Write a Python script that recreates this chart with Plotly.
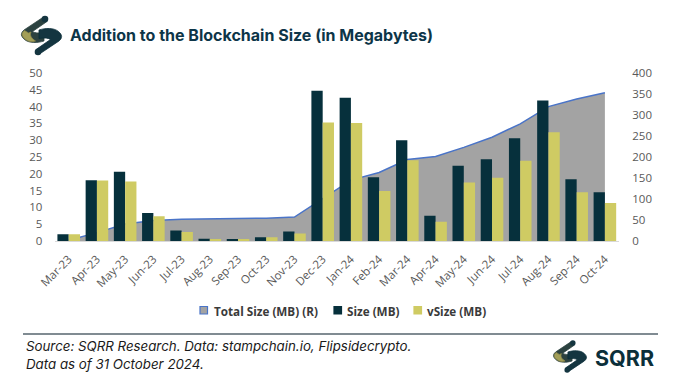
import plotly.graph_objects as go

W, H = 683, 392

months = ["Mar-23", "Apr-23", "May-23", "Jun-23", "Jul-23", "Aug-23", "Sep-23", "Oct-23",
          "Nov-23", "Dec-23", "Jan-24", "Feb-24", "Mar-24", "Apr-24", "May-24", "Jun-24",
          "Jul-24", "Aug-24", "Sep-24", "Oct-24"]
size_mb = [2.0, 18.1, 20.6, 8.3, 3.1, 0.7, 0.5, 1.1, 2.8, 44.7, 42.6, 19.0, 30.0, 7.5,
           22.4, 24.3, 30.6, 41.8, 18.4, 14.5]
vsize_mb = [2.0, 18.0, 17.7, 7.4, 2.7, 0.6, 0.4, 1.1, 2.2, 35.3, 35.1, 14.9, 24.0, 5.7,
            17.4, 18.8, 23.9, 32.4, 14.5, 11.3]
total_mb = [2, 20, 40.5, 49, 52, 52.7, 53.2, 54.3, 57, 102, 145, 163, 194, 201, 223, 247,
            279, 320, 338, 353]
left_ticks = [0, 5, 10, 15, 20, 25, 30, 35, 40, 45, 50]
right_ticks = [0, 50, 100, 150, 200, 250, 300, 350, 400]
legend_names = ["Total Size (MB) (R)", "Size (MB)", "vSize (MB)"]

DARK = "#06303c"
YELLOW = "#cfcb63"
GREY = "#a3a3a3"
BLUE = "#4a74c8"
TICK = "#595959"


def px(x, y):
    return x / W, 1 - y / H


fig = go.Figure()
fig.add_trace(go.Scatter(
    x=months, y=total_mb, name=legend_names[0], mode="lines",
    line=dict(color=BLUE, width=1.5), fill="tozeroy", fillcolor=GREY,
    yaxis="y", xaxis="x",
))
fig.add_trace(go.Bar(x=months, y=size_mb, name=legend_names[1],
                     marker=dict(color=DARK, line=dict(width=0)), yaxis="y2", offsetgroup="a"))
fig.add_trace(go.Bar(x=months, y=vsize_mb, name=legend_names[2],
                     marker=dict(color=YELLOW, line=dict(width=0)), yaxis="y2", offsetgroup="b"))

x0, x1 = 54.6 / W, 619 / W
yb, yt = 1 - 241 / H, 1 - 73 / H

tickfont = dict(family="Open Sans, sans-serif", size=11.5, color=TICK)

fig.update_layout(
    width=W, height=H,
    margin=dict(l=0, r=0, t=0, b=0),
    paper_bgcolor="white", plot_bgcolor="rgba(0,0,0,0)",
    barmode="group", bargap=0.2, bargroupgap=0,
    showlegend=False,
    xaxis=dict(domain=[x0, x1], type="category", showgrid=False, showline=True,
               linecolor="#d9d9d9", linewidth=1, tickangle=-45,
               tickfont=dict(family="Open Sans, sans-serif", size=11.5, color=TICK),
               ticks="", ticklabelstandoff=6, automargin=False, anchor="y"),
    yaxis=dict(domain=[yb, yt], range=[0, 400], tickvals=right_ticks, side="right",
               showgrid=False, zeroline=False, showline=False, tickfont=tickfont,
               ticks="outside", ticklen=10, tickcolor="rgba(0,0,0,0)", automargin=False, anchor="x"),
    yaxis2=dict(domain=[yb, yt], range=[0, 50], tickvals=left_ticks, side="left", overlaying="y",
                showgrid=False, zeroline=False, showline=False, tickfont=tickfont,
                ticks="outside", ticklen=9, tickcolor="rgba(0,0,0,0)", automargin=False, anchor="x"),
    font=dict(family="Open Sans, sans-serif"),
)

# Legend (drawn by hand to match the compact spacing)
leg_font = dict(family="Open Sans, sans-serif", size=11.7, color="#3a3a3a")
leg_items = [(200, 212, GREY, BLUE), (334, 345, DARK, DARK), (414, 425, YELLOW, YELLOW)]
for name, (sx, tx, fc, lc) in zip(legend_names, leg_items):
    fig.add_shape(type="rect", xref="paper", yref="paper",
                  x0=sx / W, x1=(sx + 7.5) / W, y0=1 - 314 / H, y1=1 - 306.5 / H,
                  fillcolor=fc, line=dict(color=lc, width=1.2))
    fig.add_annotation(x=tx / W, y=1 - 310.5 / H, xref="paper", yref="paper", xanchor="left",
                       yanchor="middle", text="<b>%s</b>" % name, showarrow=False, font=leg_font)

# Title
fig.add_annotation(x=68 / W, y=1 - 35 / H, xref="paper", yref="paper", xanchor="left", yanchor="middle",
                   text="<b>Addition to the Blockchain Size (in Megabytes)</b>", showarrow=False,
                   font=dict(family="Inter, sans-serif", size=16, color="#0d3548"))

# Footer
fig.add_shape(type="line", xref="paper", yref="paper", x0=23 / W, x1=658 / W, y0=1 - 334 / H, y1=1 - 334 / H,
              line=dict(color="#56656e", width=1.5))
foot_font = dict(family="Inter, Roboto, sans-serif", size=13.3, color="#1a1a1a")
fig.add_annotation(x=24 / W, y=1 - 346 / H, xref="paper", yref="paper", xanchor="left", yanchor="middle",
                   text="<i>Source: SQRR Research. Data: stampchain.io, Flipsidecrypto.</i>", showarrow=False,
                   font=foot_font)
fig.add_annotation(x=24 / W, y=1 - 363.5 / H, xref="paper", yref="paper", xanchor="left", yanchor="middle",
                   text="<i>Data as of 31 October 2024.</i>", showarrow=False, font=foot_font)
fig.add_annotation(x=593 / W, y=1 - 358 / H, xref="paper", yref="paper", xanchor="left", yanchor="middle",
                   text="<b>SQRR</b>", showarrow=False,
                   font=dict(family="Inter, sans-serif", size=21.5, color="#0b2f3a"))


def logo(cx, cy, s):
    def p(x, y):
        return cx + x * s, cy + y * s

    def build(pts, sign):
        out = []
        for cmd, coords in pts:
            c = []
            for (x, y) in coords:
                X, Y = p(sign * x, sign * y)
                c.append("%.5f,%.5f" % px(X, Y))
            out.append(cmd + " " + " ".join(c))
        return " ".join(out) + " Z"

    half = [
        ("M", [(2, -18.5)]),
        ("L", [(-17.5, -5.5)]),
        ("Q", [(-23, -1), (-17, 4)]),
        ("C", [(-12, 8), (-4, 7.5), (2.5, 5.5)]),
        ("L", [(2.5, -3)]),
        ("C", [(-3, -2), (-7, -2.5), (-9, -4)]),
        ("L", [(5.5, -14)]),
    ]
    glow = [
        ("M", [(-17, -5)]),
        ("Q", [(-22, -1), (-16.5, 3.5)]),
        ("C", [(-13, 6.5), (-9, 6.5), (-6, 5.5)]),
        ("C", [(-10, 3), (-12, 0), (-10.5, -3.5)]),
        ("L", [(-13, -2.5)]),
    ]
    fig.add_shape(type="path", path=build(half, 1), xref="paper", yref="paper",
                  fillcolor="#2c4240", line=dict(color="#2c4240", width=0.8))
    fig.add_shape(type="path", path=build(glow, 1), xref="paper", yref="paper",
                  fillcolor="#a39f58", line=dict(color="#8b8849", width=0.8))
    fig.add_shape(type="path", path=build(half, -1), xref="paper", yref="paper",
                  fillcolor="#143540", line=dict(color="#0b2f3a", width=0.8))
    for (dx, dy) in [(3.5, -16.5), (-3.5, 16.5)]:
        X, Y = p(dx, dy)
        r = 3.3 * s
        fig.add_shape(type="circle", xref="paper", yref="paper",
                      x0=(X - r) / W, x1=(X + r) / W, y0=1 - (Y + r) / H, y1=1 - (Y - r) / H,
                      fillcolor="#143540", line=dict(width=0))


logo(41.5, 35.5, 1.0)
logo(570, 356.5, 0.82)

fig.write_html("out.html", config={"displayModeBar": False},
               post_script="document.body.style.margin='0px';")
